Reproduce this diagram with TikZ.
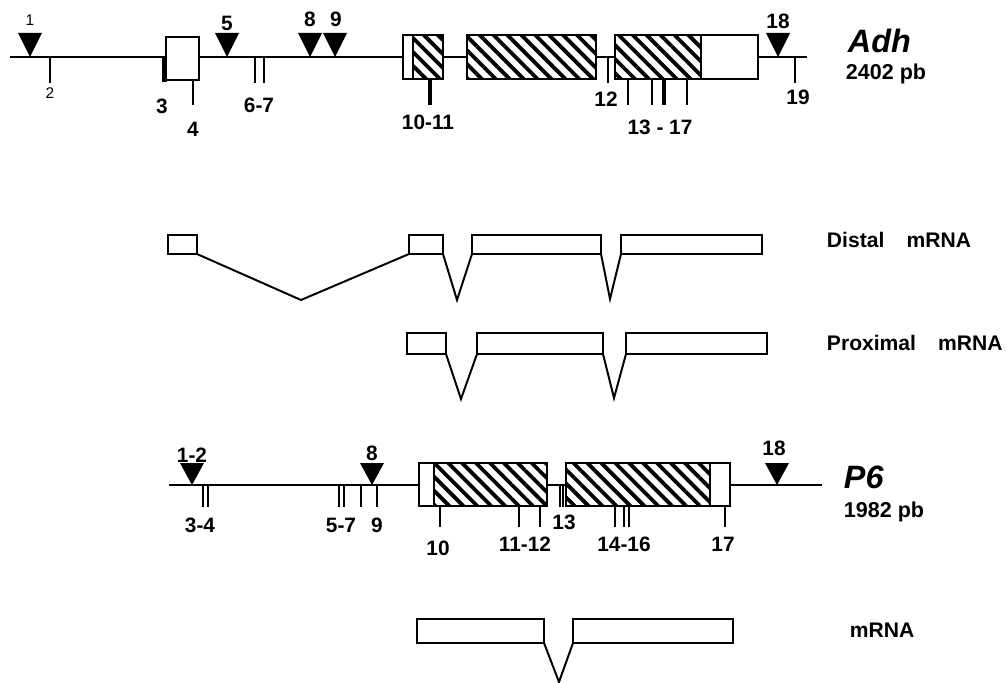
\documentclass[tikz,border=0pt]{standalone}
\usepackage{fontspec}
\setmainfont{Liberation Sans}
\usetikzlibrary{patterns.meta}

\begin{document}
\begin{tikzpicture}[
    x=0.025cm, y=-0.025cm,
    line width=1.4pt,
    exon/.style={draw, fill=white, line width=1.4pt},
    cds/.style={draw, fill=white, line width=1.4pt, postaction={pattern={Lines[angle=-45, distance=7pt, line width=2.7pt]}}},
    cut/.style={line width=1.4pt},
    bigcut/.style={line width=3pt},
    num/.style={font=\fontsize{14.8}{16}\selectfont\bfseries, inner sep=0pt},
    small/.style={font=\fontsize{11}{13}\selectfont, inner sep=0pt},
    gene/.style={font=\fontsize{23}{26}\selectfont\bfseries\itshape, inner sep=0pt, anchor=base west},
    size/.style={font=\fontsize{15.3}{17}\selectfont\bfseries, inner sep=0pt, anchor=base west},
    rna/.style={font=\fontsize{15}{17}\selectfont\bfseries, inner sep=0pt, anchor=base west}
]
    \useasboundingbox (0,0) rectangle (1007,683);

    % Adh gene
    \draw (10,57) -- (807,57);
    \draw [exon] (166,37) rectangle (199,80);
    \draw [exon] (403,35) rectangle (413,79);
    \draw [cds] (413,35) rectangle (443,79);
    \draw [cds] (467,35) rectangle (596,79);
    \draw [cds] (615,35) rectangle (701,79);
    \draw [exon] (701,35) rectangle (758,79);
    \foreach \x in {30,227,310,335,778}
        \fill (\x,57) -- ++(-12,-24) -- ++(24,0) -- cycle;
    \foreach \x in {50,255,264,608,795}
        \draw [cut] (\x,57) -- (\x,83);
    \foreach \x in {193,628,652,687}
        \draw [cut] (\x,80) -- (\x,105);
    \draw [bigcut] (164.5,57) -- (164.5,82);
    \draw [bigcut] (430,79) -- (430,105);
    \draw [bigcut] (664,79) -- (664,105);

    \node [small] (a1) at (30,20) {1};
    \node [small] (a2) at (50,93) {2};
    \node [num] (a3) at (162,106) {3};
    \node [num] (a4) at (193,129) {4};
    \node [num] (a5) at (227,23) {5};
    \node [num] (a67) at (259,105) {6-7};
    \node [num] (a8) at (310,19) {8};
    \node [num] (a9) at (336,19) {9};
    \node [num] (a1011) at (428,122) {10-11};
    \node [num] (a12) at (606,99) {12};
    \node [num] (a1317) at (660,127) {13 - 17};
    \node [num] (a18) at (778,21) {18};
    \node [num] (a19) at (798,97) {19};
    \node [gene] (adh) at (847,53) {Adh};
    \node [size] (adhsize) at (845,80) {2402 pb};

    % Distal mRNA
    \draw [exon] (168,235) rectangle (197,254);
    \draw [exon] (409,235) rectangle (443,254);
    \draw [exon] (472,235) rectangle (601,254);
    \draw [exon] (621,235) rectangle (762,254);
    \draw (197,254) -- (301,300) -- (409,254);
    \draw (443,254) -- (457,300) -- (472,254);
    \draw (601,254) -- (610,299) -- (621,254);
    \node [rna] (distal) at (826,247) {Distal\hspace{1.05em}mRNA};

    % Proximal mRNA
    \draw [exon] (407,333) rectangle (446,354);
    \draw [exon] (477,333) rectangle (603,354);
    \draw [exon] (626,333) rectangle (767,354);
    \draw (446,354) -- (461,399) -- (477,354);
    \draw (603,354) -- (614,398) -- (626,354);
    \node [rna] (proximal) at (826,350) {Proximal\hspace{1.05em}mRNA};

    % P6 gene
    \draw (169,485) -- (822,485);
    \draw [exon] (419,463) rectangle (434,506);
    \draw [cds] (434,463) rectangle (547,506);
    \draw [cds] (566,463) rectangle (710,506);
    \draw [exon] (710,463) rectangle (730,506);
    \foreach \x in {192,372,777}
        \fill (\x,485) -- ++(-12,-22) -- ++(24,0) -- cycle;
    \foreach \x in {203,208,339,344,361,377,560,563}
        \draw [cut] (\x,485) -- (\x,507);
    \foreach \x in {440,519,540,615,624,629,725}
        \draw [cut] (\x,506) -- (\x,527);

    \node [num] (p12) at (192,455) {1-2};
    \node [num] (p34) at (200,525) {3-4};
    \node [num] (p57) at (341,525) {5-7};
    \node [num] (p8) at (372,453) {8};
    \node [num] (p9) at (377,525) {9};
    \node [num] (p10) at (438,548) {10};
    \node [num] (p1112) at (525,544) {11-12};
    \node [num] (p13) at (564,522) {13};
    \node [num] (p1416) at (624,544) {14-16};
    \node [num] (p17) at (723,544) {17};
    \node [num] (p18) at (774,448) {18};
    \node [gene] (p6) at (843,488) {P6};
    \node [size] (p6size) at (843,517) {1982 pb};

    % P6 mRNA
    \draw [exon] (417,619) rectangle (544,643);
    \draw [exon] (573,619) rectangle (733,643);
    \draw (544,643) -- (559,682) -- (573,643);
    \node [rna] (mrna) at (849,637) {mRNA};
\end{tikzpicture}
\end{document}
